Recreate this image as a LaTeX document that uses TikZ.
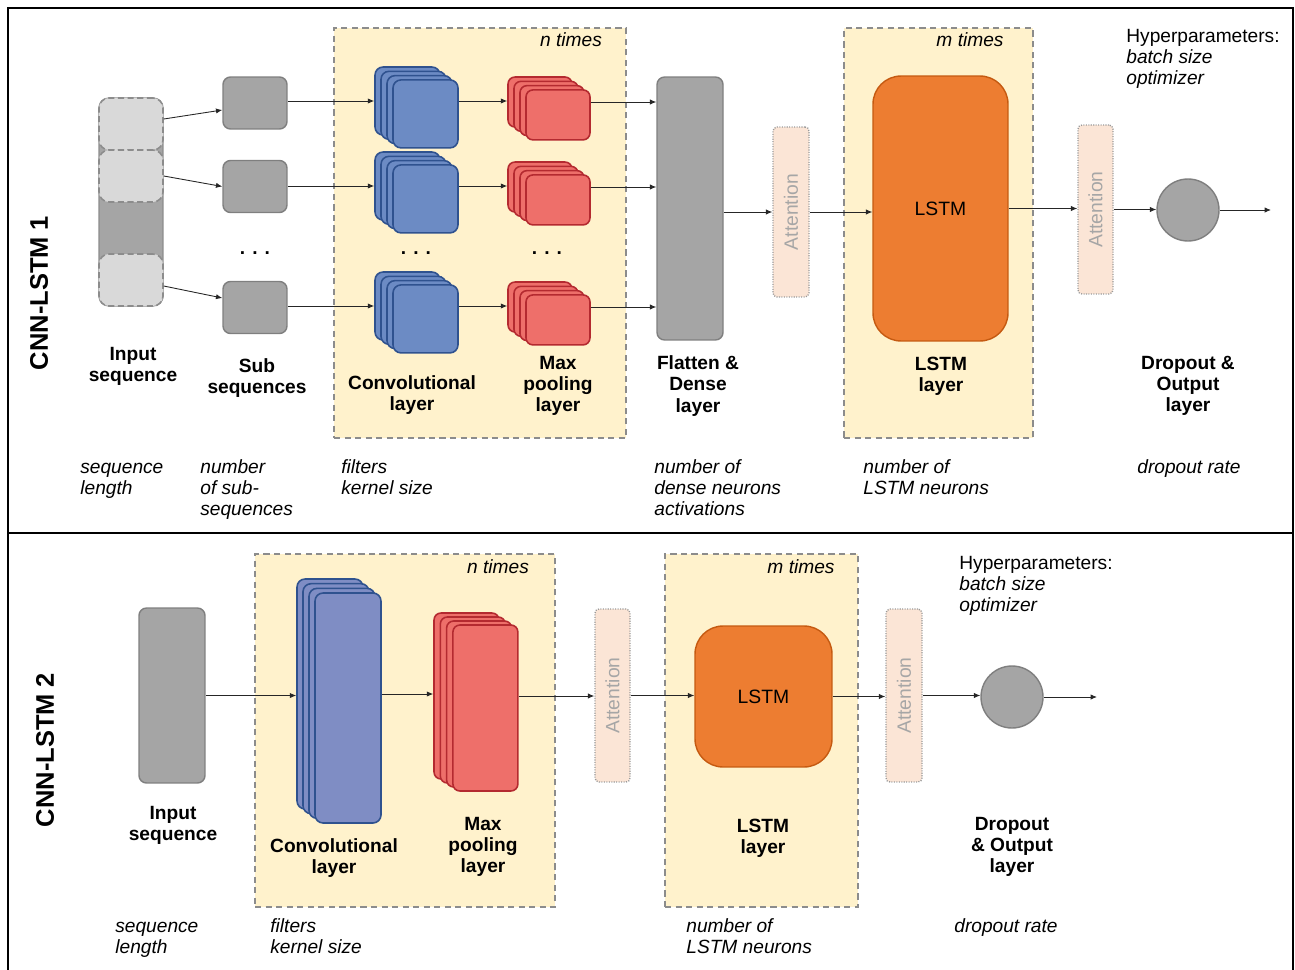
\documentclass[tikz,border=0pt]{standalone}
\usepackage{fontspec}
\setmainfont{Liberation Sans}
\usetikzlibrary{arrows.meta}

\definecolor{repfill}{HTML}{FFF2CC}
\definecolor{dashgray}{HTML}{8C8C8C}
\definecolor{boxgray}{HTML}{A5A5A5}
\definecolor{boxedge}{HTML}{7F7F7F}
\definecolor{cellgray}{HTML}{D9D9D9}
\definecolor{convblue}{HTML}{6C8BC4}
\definecolor{convbluetwo}{HTML}{7F8DC4}
\definecolor{convedge}{HTML}{2F528F}
\definecolor{poolred}{HTML}{EE6F6A}
\definecolor{pooledge}{HTML}{B42A30}
\definecolor{lstmorange}{HTML}{ED7D31}
\definecolor{lstmedge}{HTML}{C55A11}
\definecolor{attfill}{HTML}{FBE5D6}
\definecolor{attedge}{HTML}{999999}
\definecolor{atttext}{HTML}{A6A6A6}

\tikzset{
    panelframe/.style={line width=1.2pt, black},
    paneltitle/.style={font=\fontsize{14.5}{16}\selectfont\bfseries, rotate=90, inner sep=0pt},
    lbl/.style={font=\fontsize{10.9}{12}\selectfont\bfseries, align=center, inner sep=0pt},
    note/.style={font=\fontsize{10.9}{12}\selectfont\itshape, align=left, anchor=north west, inner sep=0pt},
    reptext/.style={font=\fontsize{10.9}{12}\selectfont\itshape, inner sep=0pt},
    dotsl/.style={font=\fontsize{10.9}{12}\selectfont\bfseries, inner sep=0pt},
    rep/.style={draw=dashgray, fill=repfill, line width=0.9pt, dash pattern=on 3.5pt off 2.5pt},
    graybox/.style={draw=boxedge, fill=boxgray, line width=0.8pt, rounded corners=0.15cm},
    cell/.style={draw=dashgray, fill=cellgray, line width=0.9pt, dash pattern=on 3.5pt off 2pt,
        rounded corners=0.2cm, minimum width=1.28cm, minimum height=1.04cm},
    convsq/.style={draw=convedge, fill=convblue, line width=0.9pt, rounded corners=0.16cm},
    poolsq/.style={draw=pooledge, fill=poolred, line width=0.9pt, rounded corners=0.14cm},
    lstm/.style={draw=lstmedge, fill=lstmorange, line width=0.8pt, rounded corners=0.56cm,
        font=\fontsize{11}{12}\selectfont},
    att/.style={draw=attedge, fill=attfill, line width=0.8pt, dash pattern=on 0.6pt off 0.8pt,
        rounded corners=0.08cm, text=atttext, font=\fontsize{11}{12}\selectfont, inner sep=0pt},
    outnode/.style={circle, draw=boxedge, fill=boxgray, line width=0.8pt, minimum size=1.24cm},
    arr/.style={-{Latex[length=3.6pt,width=3pt]}, line width=0.5pt, black!85}
}

\begin{document}
\begin{tikzpicture}[x=0.02cm, y=-0.02cm]
    \useasboundingbox (0,0) rectangle (1295,970);
    \draw[panelframe] (8,975) -- (8,8) -- (1293,8) -- (1293,975);
    \draw[panelframe] (8,533) -- (1293,533);

    % CNN-LSTM 1
    \node[paneltitle] (title1) at (39,293) {CNN-LSTM 1};
    \node[rep, minimum width=5.84cm, minimum height=8.2cm] (nrep1) at (480,233) {};
    \node[rep, minimum width=3.78cm, minimum height=8.2cm] (mrep1) at (938.5,233) {};
    \node[reptext] (ntimes1) at (571,40) {n times};
    \node[reptext] (mtimes1) at (970,40) {m times};

    \node[graybox, draw=dashgray, rounded corners=0.2cm, minimum width=1.28cm, minimum height=4.16cm] (inseq1) at (131,202) {};
    \node[cell] (seq1) at (131,124) {};
    \node[cell] (seq2) at (131,176) {};
    \node[cell] (seq4) at (131,280) {};

    \foreach \r/\y/\s in {1/101/103, 2/186/186.5, 3/306/307.5}{
        \node[graybox, minimum width=1.28cm, minimum height=1.04cm] (sub\r) at (255,\s) {};
        \foreach \i in {0,...,3}
            \node[convsq, minimum width=1.3cm, minimum height=1.36cm] (c\r\i) at (407.5+6*\i, \y+4.3*\i) {};
        \foreach \i in {0,...,3}
            \node[poolsq, minimum width=1.28cm, minimum height=1cm] (p\r\i) at (540+6*\i, \y+1+4.3*\i) {};
    }
    \node[graybox, minimum width=1.32cm, minimum height=5.26cm] (flat1) at (690,208.5) {};
    \foreach \r in {1,2,3}{
        \draw[arr] (c\r0.west -| sub\r.east) -- (c\r0.west);
        \draw[arr] (c\r0.east -| c\r3.east) -- (c\r0.east -| p\r0.west);
        \draw[arr] (p\r0.east -| p\r3.east) -- (p\r0.east -| flat1.west);
    }
    \draw[arr] ([yshift=0.1cm]seq1.east) -- ([yshift=-0.14cm]sub1.west);
    \draw[arr] (seq2.east) -- (sub2.west);
    \draw[arr] ([yshift=-0.12cm]seq4.east) -- ([yshift=0.19cm]sub3.west);

    \node[dotsl] (dots1) at (255,253) {. . .};
    \node[dotsl] (dots2) at (416,253) {. . .};
    \node[dotsl] (dots3) at (547,253) {. . .};

    \node[att, minimum width=0.72cm, minimum height=3.4cm] (att11) at (791,212) {\rotatebox{90}{Attention}};
    \node[lstm, minimum width=2.7cm, minimum height=5.3cm] (lstm1) at (940.5,208.5) {LSTM};
    \node[att, minimum width=0.7cm, minimum height=3.38cm] (att12) at (1095.5,209.5) {\rotatebox{90}{Attention}};
    \node[outnode] (out1) at (1188,210) {};
    \coordinate (end1) at (1271,210);
    \draw[arr] (att11.west -| flat1.east) -- (att11.west);
    \draw[arr] (att11.east) -- (att11.east -| lstm1.west);
    \draw[arr] (lstm1.east) -- (lstm1.east -| att12.west);
    \draw[arr] (att12.east) -- (att12.east -| out1.west);
    \draw[arr] (out1.east) -- (end1);

    \node[lbl] (lin1) at (133,366) {Input\\sequence};
    \node[lbl] (lsub1) at (257,378) {Sub\\sequences};
    \node[lbl] (lconv1) at (412,395) {Convolutional\\layer};
    \node[lbl] (lpool1) at (558,386) {Max\\pooling\\layer};
    \node[lbl] (lflat1) at (698,386) {Flatten \&\\Dense\\layer};
    \node[lbl] (llstm1) at (941,376) {LSTM\\layer};
    \node[lbl] (lout1) at (1188,386) {Dropout \&\\Output\\layer};

    \node[note] (hseq1) at (80,458) {\strut sequence\\length};
    \node[note] (hsub1) at (200,458) {\strut number\\of sub-\\sequences};
    \node[note] (hconv1) at (341,458) {\strut filters\\kernel size};
    \node[note] (hflat1) at (654,458) {\strut number of\\dense neurons\\activations};
    \node[note] (hlstm1) at (863,458) {\strut number of\\LSTM neurons};
    \node[reptext] (hout1) at (1189,469) {dropout rate};
    \node[note, font=\fontsize{10.9}{12}\selectfont] (hyp1) at (1126,27) {\strut Hyperparameters:\\\textit{batch size}\\\textit{optimizer}};

    % CNN-LSTM 2
    \node[paneltitle] (title2) at (45,750) {CNN-LSTM 2};
    \node[rep, minimum width=6cm, minimum height=7.06cm] (nrep2) at (405,730.5) {};
    \node[rep, minimum width=3.86cm, minimum height=7.06cm] (mrep2) at (761.5,730.5) {};
    \node[reptext] (ntimes2) at (498,567) {n times};
    \node[reptext] (mtimes2) at (801,567) {m times};

    \node[graybox, minimum width=1.32cm, minimum height=3.5cm] (in2) at (172,695.5) {};
    \foreach \i in {0,...,3}
        \node[convsq, fill=convbluetwo, minimum width=1.32cm, minimum height=4.6cm] (cb\i) at (330+6*\i, 694+4.67*\i) {};
    \foreach \i in {0,...,3}
        \node[poolsq, minimum width=1.3cm, minimum height=3.32cm] (pb\i) at (466.5+6.3*\i, 696+4*\i) {};
    \node[att, minimum width=0.7cm, minimum height=3.46cm] (att21) at (612.5,695.5) {\rotatebox{90}{Attention}};
    \node[lstm, minimum width=2.74cm, minimum height=2.82cm] (lstm2) at (763.5,696.5) {LSTM};
    \node[att, minimum width=0.72cm, minimum height=3.46cm] (att22) at (904,695.5) {\rotatebox{90}{Attention}};
    \node[outnode] (out2) at (1012,697) {};
    \coordinate (end2) at (1097,697);
    \draw[arr] (in2.east) -- (in2.east -| cb0.west);
    \draw[arr] (cb0.east -| cb3.east) -- (cb0.east -| pb0.west);
    \draw[arr] (pb0.east -| pb3.east) -- (pb0.east -| att21.west);
    \draw[arr] (att21.east) -- (att21.east -| lstm2.west);
    \draw[arr] (lstm2.east) -- (lstm2.east -| att22.west);
    \draw[arr] (att22.east) -- (att22.east -| out2.west);
    \draw[arr] (out2.east) -- (end2);

    \node[lbl] (lin2) at (173,825) {Input\\sequence};
    \node[lbl] (lconv2) at (334,858) {Convolutional\\layer};
    \node[lbl] (lpool2) at (483,847) {Max\\pooling\\layer};
    \node[lbl] (llstm2) at (763,838) {LSTM\\layer};
    \node[lbl] (lout2) at (1012,847) {Dropout\\\& Output\\layer};

    \node[note] (hseq2) at (115,917) {\strut sequence\\length};
    \node[note] (hconv2) at (270,917) {\strut filters\\kernel size};
    \node[note] (hlstm2) at (686,917) {\strut number of\\LSTM neurons};
    \node[reptext] (hout2) at (1006,928) {dropout rate};
    \node[note, font=\fontsize{10.9}{12}\selectfont] (hyp2) at (959,554) {\strut Hyperparameters:\\\textit{batch size}\\\textit{optimizer}};
\end{tikzpicture}
\end{document}
